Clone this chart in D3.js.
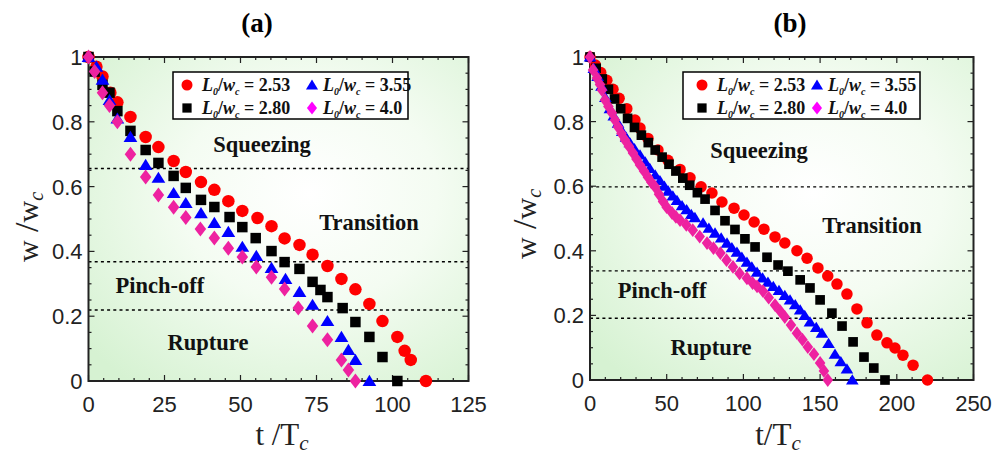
<!DOCTYPE html>
<html><head><meta charset="utf-8">
<script src="https://cdn.jsdelivr.net/npm/d3@7"></script>
<style>body{margin:0;background:#fff}svg{display:block}</style>
</head><body>
<svg id="c" width="994" height="454"></svg>
<script>
// ---------- DATA ----------
// Panel (a)
const aRedT = [0,2.6,4.6,7.2,9.5,13.8,18.8,23,28,32,37,41.4,46,50.6,55.6,60.2,64.5,69.4,73.7,78.6,83.2,87.8,92.4,96.7,101.6,104,106,111];
const aRedW = [1,.97,.94,.89,.86,.815,.753,.722,.679,.645,.614,.59,.555,.525,.503,.478,.44,.42,.39,.355,.315,.283,.238,.185,.136,.093,.065,0];
const aBlackT = [0,2,4.6,6.9,9.5,13.8,18.8,23,28,32,37,41.4,46.4,50.6,55,60.2,64.5,69.4,73.7,76.3,78.6,83.6,87.8,92.4,96.7,101.6];
const aBlackW = [1,.955,.914,.89,.833,.772,.713,.673,.633,.596,.559,.537,.506,.475,.441,.401,.367,.346,.306,.281,.259,.225,.182,.136,.074,0];
const aBlueT = [0,2.6,4.6,6.9,9.5,13.8,18.8,23,28,32,37,41.4,46,50.6,55.2,60.2,64.8,69.4,73.7,78.6,83.2,85.5,87.8,92.4];
const aBlueW = [1,.97,.93,.867,.81,.753,.667,.627,.58,.549,.518,.488,.46,.414,.386,.349,.315,.275,.235,.185,.136,.096,.065,0];
const aPinkT = [0,2,4.6,6.9,9.5,13.8,18.8,23,28,32,36.8,41.4,46,50.6,55.2,60.2,64.5,69,73.7,78.6,83.2,85.5,87.8];
const aPinkW = [1,.955,.89,.85,.80,.70,.63,.574,.536,.505,.469,.441,.41,.383,.352,.32,.284,.225,.17,.127,.065,.034,0];
// Panel (b)
const bRedT = [0,3.5,7,11,15,19,24,29.3,32.6,37.8,44.3,50.8,58.7,65.2,72.4,79.5,86,93.9,100.4,107,113.4,120.6,127,134.9,141.5,148.6,155,161,167.5,174,180.6,187,193.6,198.8,204,210.6,220];
const bRedW = [1,.975,.952,.928,.9,.872,.84,.805,.78,.748,.712,.68,.652,.626,.598,.579,.551,.532,.511,.489,.467,.443,.424,.40,.377,.347,.322,.297,.266,.22,.177,.139,.115,.099,.077,.046,0];
const bBlackT = [0,4,8,12,16,20,24.5,29,33.5,38,42.5,47,51.5,56,60.5,65,70,75,81.5,88,94.5,101,107.6,115.4,122.6,129,137,143.4,150,157.7,164.3,171.5,178.6,185,192.3];
const bBlackW = [1,.965,.932,.9,.87,.84,.81,.782,.758,.735,.712,.69,.668,.647,.625,.603,.58,.56,.525,.493,.466,.437,.412,.38,.356,.337,.31,.285,.248,.207,.167,.118,.071,.037,0];
const bBlueT = [0,2.5,5,7.5,10,13,15.5,18.3,21,23.5,26,29,32.6,36,39,42.5,45.6,48.5,51,54,56.7,60,63,66,68.4,73.7,77.5,81.5,85.5,89.3,92.5,95.8,99,102.3,105.5,108.9,112.5,116,119.5,123.2,127,130.4,133.8,137,140,143.4,147.5,151.2,155.5,159.7,163.5,167.5,171];
const bBlueW = [1,.965,.94,.91,.875,.84,.818,.795,.77,.752,.735,.716,.697,.675,.655,.635,.617,.6,.585,.57,.556,.54,.527,.513,.503,.486,.47,.455,.44,.424,.41,.396,.38,.365,.35,.334,.316,.303,.29,.277,.262,.248,.233,.217,.2,.18,.163,.145,.113,.08,.057,.034,0];
const bPinkT = [0,2,4.5,6.5,7.8,9.8,12,14.3,16.3,18.3,20.5,22.8,25.4,28,30.3,32.6,35.2,37.8,40,42.4,45,47.6,50,53.5,56,58.7,62.8,67,71.5,76.3,80.5,85,89,93.2,97.5,102.3,106,108.9,112.8,116.5,120.6,124,127,131,134.9,138.5,142,146,150,152.5,155];
const bPinkW = [1,.96,.935,.915,.898,.867,.847,.827,.805,.783,.763,.743,.723,.703,.684,.666,.647,.628,.612,.598,.575,.553,.535,.517,.505,.495,.48,.464,.444,.424,.408,.393,.371,.35,.33,.315,.30,.29,.275,.255,.232,.213,.195,.17,.145,.125,.102,.08,.053,.028,0];
// Ticks, regime lines, labels
const aXTicks = [0,25,50,75,100,125];
const bXTicks = [0,50,100,150,200,250];
const yTicks = [0,0.2,0.4,0.6,0.8,1];
const yTickLabels = ["0","0.2","0.4","0.6","0.8","1"];
const aRegimeLines = [0.656,0.368,0.219];
const bRegimeLines = [0.598,0.338,0.191];
const regimeNames = ["Squeezing","Transition","Pinch-off","Rupture"];
const aRegimeT = [57.1,92.3,23.5,39.3];
const aRegimeW = [0.707,0.466,0.272,0.096];
const bRegimeT = [110.2,183.8,47,78.9];
const bRegimeW = [0.687,0.455,0.254,0.077];
const legendValues = ["2.53","2.80","3.55","4.0"];
const seriesColors = ["#ff0000","#000000","#0000ff","#ee22a0"];
const legendColors = ["#ff0000","#000000","#0000ff","#ff00ff"];
const shapes = ["circle","square","triangle","diamond"];

// ---------- DRAW ----------
const svg = d3.select("#c");
const defs = svg.append("defs");
const grad = defs.append("radialGradient").attr("id","bg").attr("cx","0.58").attr("cy","0.42").attr("r","0.75");
grad.append("stop").attr("offset","0%").attr("stop-color","#ffffff");
grad.append("stop").attr("offset","45%").attr("stop-color","#f4fcf2");
grad.append("stop").attr("offset","100%").attr("stop-color","#d6f2d2");

function markerPath(shape, s){
  if(shape==="circle") return d3.symbol(d3.symbolCircle, Math.PI*(s*0.5)*(s*0.5))();
  if(shape==="square") { const h=s*0.42; return `M${-h},${-h}H${h}V${h}H${-h}Z`; }
  if(shape==="triangle"){ const w=s*0.55, h=s*0.47; return `M0,${-h*1.05}L${w},${h*0.85}L${-w},${h*0.85}Z`; }
  const w=s*0.46, h=s*0.6; return `M0,${-h}L${w},0L0,${h}L${-w},0Z`;
}

function panel(cfg){
  const g = svg.append("g");
  const x = d3.scaleLinear().domain([0,cfg.xmax]).range([cfg.x0,cfg.x1]);
  const y = d3.scaleLinear().domain([0,1]).range([cfg.y0,cfg.y1]);
  g.append("rect").attr("x",cfg.x0).attr("y",cfg.y1).attr("width",cfg.x1-cfg.x0).attr("height",cfg.y0-cfg.y1).attr("fill","url(#bg)");
  // regime lines
  g.selectAll(".rl").data(cfg.lines).join("line")
    .attr("x1",cfg.x0).attr("x2",cfg.x1).attr("y1",d=>y(d)).attr("y2",d=>y(d))
    .attr("stroke","#000").attr("stroke-width",1.4).attr("stroke-dasharray","3,3.2");
  // regime text
  g.selectAll(".rt").data(regimeNames).join("text")
    .attr("x",(d,i)=>x(cfg.rt[i])).attr("y",(d,i)=>y(cfg.rw[i]))
    .attr("text-anchor","middle").attr("font-family","Liberation Serif, serif").attr("font-weight","bold")
    .attr("font-size",22.5).attr("fill","#111").text(d=>d);
  // axes
  const ax = g.append("g");
  const minorX = d3.range(0,cfg.xmax+1e-9,cfg.xminor);
  const minorY = d3.range(0,1.0001,0.05);
  const tickCol="#222";
  // x ticks bottom & top
  ax.selectAll(".mx").data(minorX).join("line").attr("x1",d=>x(d)).attr("x2",d=>x(d))
    .attr("y1",cfg.y0).attr("y2",d=>cfg.y0-(cfg.xTicks.includes(d)?6:3)).attr("stroke",tickCol).attr("stroke-width",1.2);
  ax.selectAll(".mxt").data(minorX).join("line").attr("x1",d=>x(d)).attr("x2",d=>x(d))
    .attr("y1",cfg.y1).attr("y2",d=>cfg.y1+(cfg.xTicks.includes(d)?6:3)).attr("stroke",tickCol).attr("stroke-width",1.2);
  ax.selectAll(".my").data(minorY).join("line").attr("y1",d=>y(d)).attr("y2",d=>y(d))
    .attr("x1",cfg.x0).attr("x2",(d,i)=>cfg.x0+(i%4===0?6:3)).attr("stroke",tickCol).attr("stroke-width",1.2);
  ax.selectAll(".myr").data(minorY).join("line").attr("y1",d=>y(d)).attr("y2",d=>y(d))
    .attr("x1",cfg.x1).attr("x2",(d,i)=>cfg.x1-(i%4===0?6:3)).attr("stroke",tickCol).attr("stroke-width",1.2);
  ax.append("rect").attr("x",cfg.x0).attr("y",cfg.y1).attr("width",cfg.x1-cfg.x0).attr("height",cfg.y0-cfg.y1)
    .attr("fill","none").attr("stroke",tickCol).attr("stroke-width",2);
  // tick labels
  ax.selectAll(".xl").data(cfg.xTicks).join("text").attr("x",d=>x(d)).attr("y",cfg.y0+31)
    .attr("text-anchor","middle").attr("font-family","Liberation Sans, Arial, sans-serif").attr("font-size",22).attr("fill","#222").text(d=>d);
  ax.selectAll(".yl").data(yTicks).join("text").attr("x",cfg.x0-6).attr("y",d=>y(d)+8)
    .attr("text-anchor","end").attr("font-family","Liberation Sans, Arial, sans-serif").attr("font-size",22).attr("fill","#222").text((d,i)=>yTickLabels[i]);
  // markers
  cfg.series.forEach((s,k)=>{
    const pts = s.t.map((t,i)=>[t,s.w[i]]);
    g.append("g").selectAll("path").data(pts).join("path")
      .attr("d",markerPath(shapes[k],cfg.ms)).attr("transform",d=>`translate(${x(d[0])},${y(d[1])})`)
      .attr("fill",seriesColors[k]);
  });
  // legend
  const L = cfg.leg;
  const lg = g.append("g");
  lg.append("rect").attr("x",L.x).attr("y",L.y).attr("width",L.w).attr("height",L.h).attr("fill","#fff").attr("stroke","#000").attr("stroke-width",1.5);
  const pos = [[L.m1,L.r1],[L.m1,L.r2],[L.m2,L.r1],[L.m2,L.r2]];
  pos.forEach((p,k)=>{
    lg.append("path").attr("d",markerPath(shapes[k],11)).attr("transform",`translate(${p[0]},${p[1]})`).attr("fill",legendColors[k]);
    const tx = lg.append("text").attr("x",p[0]+(k<2?L.g1:L.g2)).attr("y",p[1]+6)
      .attr("font-family","Liberation Serif, serif").attr("font-weight","bold").attr("font-size",18).attr("fill","#111");
    tx.append("tspan").attr("font-style","italic").text("L");
    tx.append("tspan").attr("font-style","italic").attr("font-size",10).attr("dy",4).text("0");
    tx.append("tspan").attr("dy",-4).text("/");
    tx.append("tspan").attr("font-style","italic").text("w");
    tx.append("tspan").attr("font-style","italic").attr("font-size",10).attr("dy",4).text("c");
    tx.append("tspan").attr("dy",-4).text(" = "+legendValues[k]);
  });
  // title
  g.append("text").attr("x",cfg.titleX).attr("y",32).attr("text-anchor","middle").attr("font-family","Liberation Serif, serif")
    .attr("font-weight","bold").attr("font-size",27).attr("fill","#000").text(cfg.title);
  // y label
  const yl = g.append("text").attr("transform",`translate(${cfg.ylx},${cfg.yly}) rotate(-90)`).attr("text-anchor","middle")
    .attr("font-family","Liberation Serif, serif").attr("font-size",30).attr("fill","#222");
  yl.append("tspan").text("w");
  yl.append("tspan").attr("font-size",34).text(" /");
  yl.append("tspan").text("w");
  yl.append("tspan").attr("font-style","italic").attr("font-size",20).attr("dy",5).text("c");
  // x label
  const xl = g.append("text").attr("x",cfg.xlx).attr("y",445).attr("text-anchor","middle")
    .attr("font-family","Liberation Serif, serif").attr("font-size",31).attr("fill","#222");
  xl.append("tspan").text(cfg.xlabelT);
  xl.append("tspan").text("T");
  xl.append("tspan").attr("font-style","italic").attr("font-size",21).attr("dy",5).text("c");
}

panel({x0:88.5,x1:468.5,y0:381,y1:57,xmax:125,xTicks:aXTicks,xminor:5,lines:aRegimeLines,rt:aRegimeT,rw:aRegimeW,ms:12.5,
  series:[{t:aRedT,w:aRedW},{t:aBlackT,w:aBlackW},{t:aBlueT,w:aBlueW},{t:aPinkT,w:aPinkW}],
  leg:{x:173,y:72,w:235,h:47,m1:187,m2:312,r1:85,r2:108,g1:15,g2:11},
  title:"(a)",titleX:257,ylx:38,yly:227,xlx:282,xlabelT:"t /"});
panel({x0:590,x1:973.5,y0:380,y1:57,xmax:250,xTicks:bXTicks,xminor:10,lines:bRegimeLines,rt:bRegimeT,rw:bRegimeW,ms:11.5,
  series:[{t:bRedT,w:bRedW},{t:bBlackT,w:bBlackW},{t:bBlueT,w:bBlueW},{t:bPinkT,w:bPinkW}],
  leg:{x:683,y:72,w:237,h:47,m1:702,m2:817,r1:85,r2:108,g1:15,g2:11},
  title:"(b)",titleX:790,ylx:536,yly:224,xlx:778,xlabelT:"t/"});
</script>
</body></html>
